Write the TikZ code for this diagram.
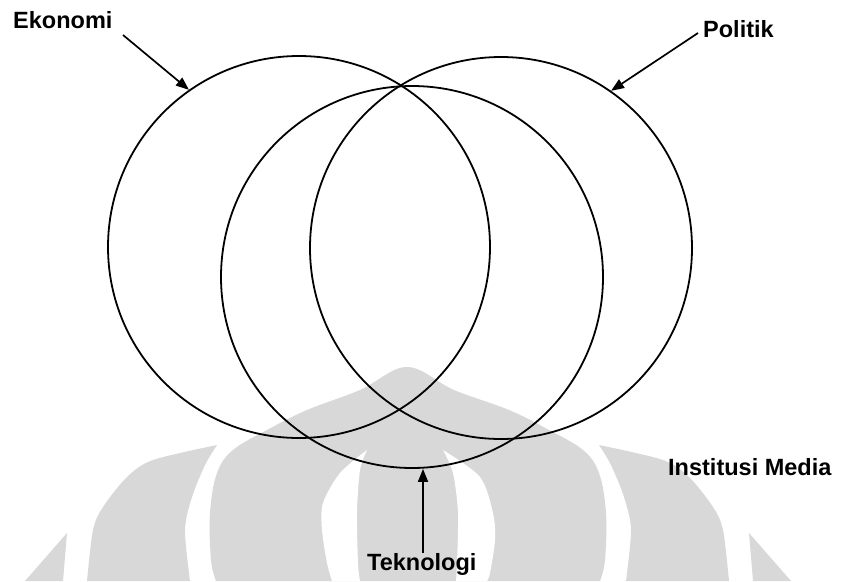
\documentclass[tikz,border=0pt]{standalone}
\usepackage{fontspec}
\setmainfont{Liberation Sans}
\usetikzlibrary{arrows.meta}
\definecolor{wm}{RGB}{216,216,216}
\begin{document}
\begin{tikzpicture}[x=1pt,y=-1pt,
  ring/.style={circle, draw=black, line width=1.8pt, minimum size=382pt, inner sep=0pt},
  lbl/.style={font=\fontsize{23.5}{28}\selectfont\bfseries, inner sep=0pt, anchor=base west},
  arr/.style={line width=1.7pt, -{Triangle[length=13pt,width=10pt]}}]
\useasboundingbox (0,0) rectangle (842,581);
\fill[white] (0,0) rectangle (842,581);
% watermark
\fill[wm] plot[smooth, tension=0.6] coordinates {(216,581) (211,560) (210,513) (217,473) (233,450) (267,430) (307,410) (360,390) (407,367) (454,390) (509,410) (549,430) (583,450) (599,473) (606,513) (605,560) (600,581)} -- cycle;
\fill[white] plot[smooth] coordinates {(367,450) (340,473) (323,503) (322,530) (327,563) (332,581)} -- plot[smooth] coordinates {(360,581) (358,563) (357,513) (360,470) (367,450)} -- cycle;
\fill[white] plot[smooth] coordinates {(443,450) (480,477) (493,513) (495,540) (490,573) (487,581)} -- plot[smooth] coordinates {(456,581) (457,563) (458,513) (453,473) (443,450)} -- cycle;
\fill[wm] plot[smooth] coordinates {(217,445) (153,460) (127,477) (103,507) (93,530) (87,581)} -- plot[smooth] coordinates {(190,581) (185,530) (192,497) (205,465) (217,445)} -- cycle;
\fill[wm] plot[smooth] coordinates {(599,445) (663,460) (689,477) (713,507) (723,530) (729,581)} -- plot[smooth] coordinates {(626,581) (631,530) (624,497) (611,465) (599,445)} -- cycle;
\fill[wm] (67,533) -- (25,581) -- (63,581) -- cycle;
\fill[wm] (749,533) -- (791,581) -- (753,581) -- cycle;
% circles
\node[ring] (eko) at (299,247) {};
\node[ring] (pol) at (501,248) {};
\node[ring] (tek) at (412,277) {};
% labels
\node[lbl] (lek) at (13,28) {Ekonomi};
\node[lbl] (lpo) at (703,37) {Politik};
\node[lbl] (lte) at (367,570) {Teknologi};
\node[lbl] (lin) at (668,475) {Institusi Media};
% arrows
\coordinate (sek) at (123,35);
\coordinate (spo) at (698,33);
\coordinate (ste) at (423,553);
\draw[arr] (sek) -- (eko.125);
\draw[arr] (spo) -- (pol.55);
\draw[arr] (ste) -- (ste |- tek.south);
\end{tikzpicture}
\end{document}
